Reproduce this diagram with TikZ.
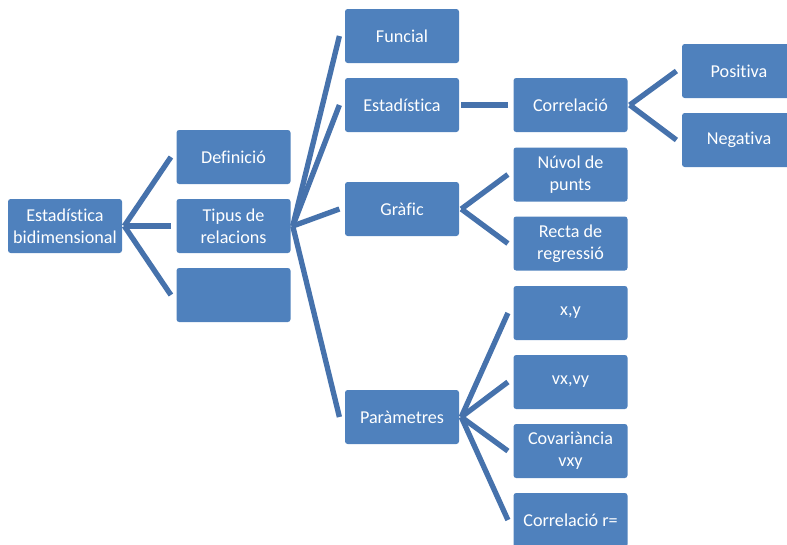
\documentclass[tikz,border=0pt]{standalone}
\usepackage{fontspec}
\setmainfont{Carlito}[Ligatures=NoCommon]
\definecolor{boxblue}{RGB}{79,129,189}
\definecolor{lineblue}{RGB}{70,114,172}

\begin{document}
\begin{tikzpicture}[x=0.75pt,y=-0.75pt,
  box/.style={fill=boxblue,rounded corners=2pt,minimum width=85.5pt,minimum height=40.5pt,
    inner sep=0pt,text=white,align=center,font=\fontsize{13.6}{16.5}\selectfont},
  conn/.style={lineblue,line width=4pt}]
\useasboundingbox (0,0) rectangle (787,544);
\begin{scope}
\clip (0,0) rectangle (787,544);

\node[box] (root) at (65,226) {Estadística\\bidimensional};

\node[box] (defin) at (233.5,157) {Definició};
\node[box] (tipus) at (233.5,226) {Tipus de\\relacions};
\node[box] (buit) at (233.5,295) {};

\node[box] (funcial) at (402,36) {Funcial};
\node[box] (estad) at (402,105) {Estadística};
\node[box] (grafic) at (402,209) {Gràfic};
\node[box] (param) at (402,417) {Paràmetres};

\node[box] (correl) at (570.5,105) {Correlació};
\node[box] (nuvol) at (570.5,174.5) {Núvol de\\punts};
\node[box] (recta) at (570.5,243.5) {Recta de\\regressió};
\node[box] (xy) at (570.5,313) {x,y};
\node[box] (vxvy) at (570.5,382) {vx,vy};
\node[box] (covar) at (570.5,451) {Covariància\\vxy};
\node[box] (corr) at (570.5,520) {Correlació r=};

\node[box] (posit) at (739,71) {Positiva};
\node[box] (negat) at (739,140) {Negativa};

% connectors
\foreach \a/\b in {root/defin,root/tipus,root/buit,
  tipus/funcial,tipus/estad,tipus/grafic,tipus/param,
  estad/correl,grafic/nuvol,grafic/recta,
  param/xy,param/vxvy,param/covar,param/corr,
  correl/posit,correl/negat}
  \draw[conn] ([xshift=1.5pt]\a.east) -- ([xshift=-4pt]\b.west);
\end{scope}
\end{tikzpicture}
\end{document}
